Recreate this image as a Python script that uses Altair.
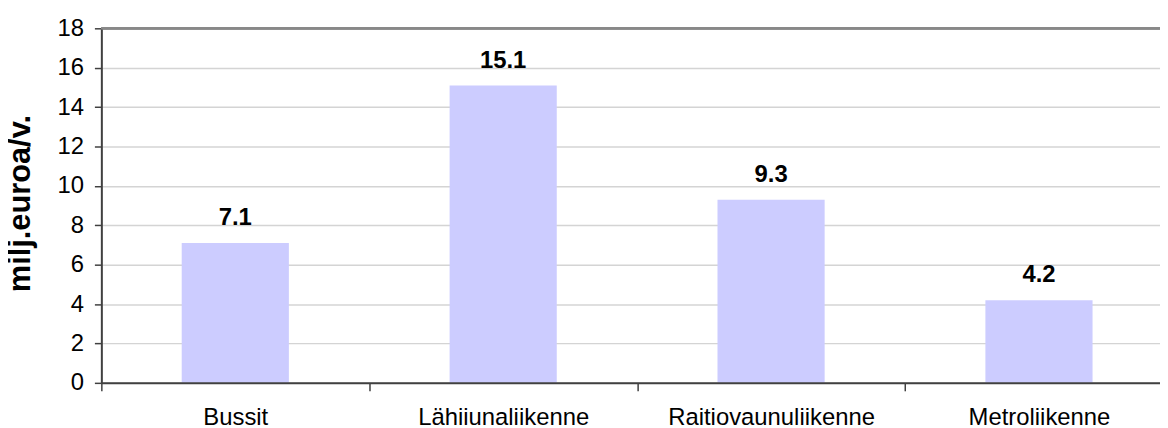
import altair as alt
import pandas as pd

categories = ["Bussit", "Lähiiunaliikenne", "Raitiovaunuliikenne", "Metroliikenne"]
values = [7.1, 15.1, 9.3, 4.2]
y_ticks = [0, 2, 4, 6, 8, 10, 12, 14, 16, 18]
y_top = 18

df = pd.DataFrame({"Category": categories, "Value": values})

FONT = "Liberation Sans"

x_enc = alt.X(
    "Category:N",
    sort=None,
    scale=alt.Scale(paddingInner=0, paddingOuter=0, range=[0, 1079]),
    axis=alt.Axis(
        title=None,
        labelAngle=0,
        labelFont=FONT,
        labelFontSize=24,
        labelColor="#000000",
        labelPadding=15,
        labelLimit=0,
        labelOverlap=False,
        tickBand="extent",
        tickSize=8,
        tickWidth=1.5,
        tickColor="#404040",
        domainColor="#404040",
        domainWidth=2,
        grid=False,
        zindex=1,
    ),
)

y_enc = alt.Y(
    "Value:Q",
    scale=alt.Scale(domain=[0, 18], nice=False, zero=True),
    axis=alt.Axis(
        values=y_ticks,
        tickCount=len(y_ticks),
        title="milj.euroa/v.",
        titleFont=FONT,
        titleFontSize=31,
        titleFontWeight="bold",
        titleColor="#000000",
        titleAngle=270,
        titleAlign="center",
        titleBaseline="middle",
        titleX=-81,
        titleY=176,
        labelFont=FONT,
        labelFontSize=24,
        labelColor="#000000",
        labelPadding=11,
        labelOverlap=False,
        labelLimit=0,
        tickSize=7,
        tickWidth=1.5,
        tickColor="#404040",
        domainColor="#404040",
        domainWidth=2,
        grid=True,
        gridColor=alt.condition("datum.value == 18", alt.value("#888888"), alt.value("#d4d4d4")),
        gridWidth=alt.condition("datum.value == 18", alt.value(2), alt.value(1.5)),
    ),
)

bars = alt.Chart(df).mark_bar(color="#CCCCFF", width=alt.RelativeBandSize(0.4)).encode(x=x_enc, y=y_enc)

top_line = alt.Chart(df).mark_rule(color="#888888", strokeWidth=2).encode(
    y=alt.datum(y_top)
)

labels = alt.Chart(df).mark_text(
    font=FONT, fontSize=24, fontWeight="bold", color="#000000",
    baseline="alphabetic", dy=-18,
).encode(
    x=alt.X("Category:N", sort=None),
    y=alt.Y("Value:Q"),
    text=alt.Text("Value:Q", format=".1f"),
)

chart = alt.layer(bars, top_line, labels).properties(
    width=1066,
    height=357,
    autosize=alt.AutoSizeParams(type="none"),
    padding={"left": 94, "top": 19, "right": 0, "bottom": 44},
).configure_view(stroke=None).configure(background="#ffffff")

chart.save("out.html", embed_options={"renderer": "svg", "actions": False})
